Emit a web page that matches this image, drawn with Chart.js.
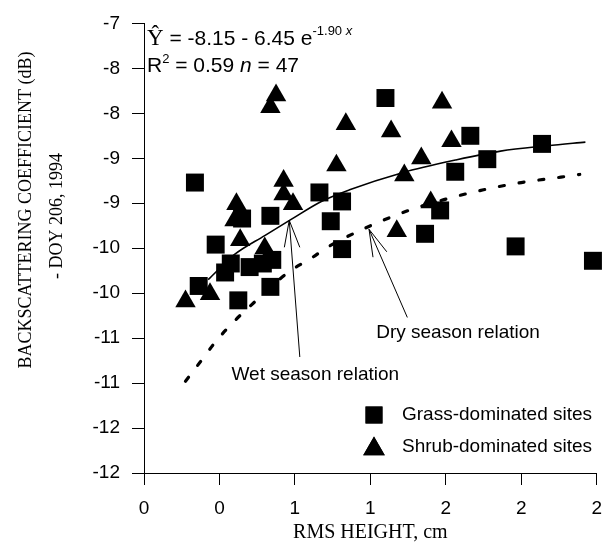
<!DOCTYPE html>
<html>
<head>
<meta charset="utf-8">
<script src="https://cdn.jsdelivr.net/npm/chart.js@4.4.1/dist/chart.umd.min.js"></script>
<style>
  html, body { margin: 0; padding: 0; background: #fff; }
</style>
</head>
<body>
<canvas id="myChart" width="614" height="547"></canvas>
<script>
// values
const grassX = [0.27, 0.67, 0.52, 0.38, 0.46, 0.43, 0.56, 0.63, 0.68, 0.29, 0.67, 0.50, 0.93, 0.99,
    1.28, 1.73, 2.11, 1.82, 1.65, 1.05, 1.57, 1.49, 1.05, 1.97, 2.38];
const grassY = [-8.77, -9.14, -9.17, -9.46, -9.67, -9.77, -9.71, -9.67, -9.63, -9.92, -9.93, -10.08, -8.88, -9.20,
    -7.83, -8.25, -8.34, -8.51, -8.65, -8.98, -9.08, -9.34, -9.51, -9.48, -9.64];

const shrubX = [0.70, 0.67, 0.74, 0.74, 0.79, 0.49, 0.48, 0.51, 0.64, 0.66, 0.35, 0.22,
    1.58, 1.07, 1.31, 1.63, 1.47, 1.02, 1.38, 1.52, 1.34];
const shrubY = [-7.80, -7.93, -8.75, -8.90, -9.01, -9.01, -9.19, -9.41, -9.50, -9.59, -10.01, -10.09,
    -7.88, -8.12, -8.20, -8.31, -8.50, -8.58, -8.69, -8.99, -9.31];

const wetX = [0.34, 0.48, 0.64, 0.78, 0.94, 1.09, 1.37, 1.65, 1.89, 2.14, 2.34];
const wetY = [-9.85, -9.57, -9.36, -9.18, -8.98, -8.85, -8.66, -8.52, -8.42, -8.36, -8.32];

const dryX = [0.22, 0.30, 0.38, 0.47, 0.57, 0.77, 0.88, 0.98, 1.18, 1.39, 1.59, 1.80, 2.00, 2.21, 2.31];
const dryY = [-10.98, -10.76, -10.54, -10.33, -10.13, -9.76, -9.62, -9.48, -9.27, -9.09, -8.96, -8.85, -8.77, -8.71, -8.68];

const xTickValues = [0, 0.4, 0.8, 1.2, 1.6, 2.0, 2.4];
const yTickValues = [-12, -11.5, -11, -10.5, -10, -9.5, -9, -8.5, -8, -7.5, -7];

const toPoints = (xs, ys) => xs.map((x, i) => ({ x: x, y: ys[i] }))

const sans = 'Liberation Sans, Arial, sans-serif'
const serif = 'Liberation Serif, Times New Roman, serif'

// arrows and notes, in data units
const notes = [
    { text: 'Wet season relation', x: 0.464, y: -10.91, tip: [0.770, -9.19], tail: [0.826, -10.71], wings: [[0.744, -9.49], [0.826, -9.49]] },
    { text: 'Dry season relation', x: 1.231, y: -10.44, tip: [1.193, -9.29], tail: [1.396, -10.27], wings: [[1.214, -9.60], [1.287, -9.54]] },
]

const extras = {
    id: 'extras',
    afterDraw(chart) {
        const ctx = chart.ctx
        const xs = chart.scales.x
        const ys = chart.scales.y
        const area = chart.chartArea
        ctx.save()
        ctx.fillStyle = '#000'
        ctx.strokeStyle = '#000'

        // y axis title, two lines
        ctx.font = '18px ' + serif
        ctx.textAlign = 'center'
        ctx.textBaseline = 'middle'
        ctx.save()
        ctx.translate(26, 210)
        ctx.rotate(-Math.PI / 2)
        ctx.fillText('BACKSCATTERING COEFFICIENT (dB)', 0, 0)
        ctx.restore()
        ctx.save()
        ctx.translate(57, 216)
        ctx.rotate(-Math.PI / 2)
        ctx.fillText('- DOY 206, 1994', 0, 0)
        ctx.restore()

        // equation
        ctx.textAlign = 'left'
        ctx.textBaseline = 'alphabetic'
        let x = area.left + 3
        let y = 45
        ctx.font = '23px ' + serif
        ctx.fillText('\u0176', x, y)
        x += ctx.measureText('\u0176').width
        ctx.font = '21px ' + sans
        ctx.fillText(' = -8.15 - 6.45 e', x, y)
        x += ctx.measureText(' = -8.15 - 6.45 e').width
        ctx.font = '13px ' + sans
        ctx.fillText('-1.90 ', x, y - 10)
        x += ctx.measureText('-1.90 ').width
        ctx.font = 'italic 13px ' + sans
        ctx.fillText('x', x, y - 10)

        x = area.left + 3
        y = 72
        ctx.font = '21px ' + sans
        ctx.fillText('R', x, y)
        x += ctx.measureText('R').width
        ctx.font = '13px ' + sans
        ctx.fillText('2', x, y - 9)
        x += ctx.measureText('2').width
        ctx.font = '21px ' + sans
        ctx.fillText(' = 0.59 ', x, y)
        x += ctx.measureText(' = 0.59 ').width
        ctx.font = 'italic 21px ' + sans
        ctx.fillText('n', x, y)
        x += ctx.measureText('n').width
        ctx.font = '21px ' + sans
        ctx.fillText(' = 47', x, y)

        // notes with arrows
        ctx.lineWidth = 1
        notes.forEach(n => {
            const tip = [xs.getPixelForValue(n.tip[0]), ys.getPixelForValue(n.tip[1])]
            ctx.beginPath()
            ctx.moveTo(xs.getPixelForValue(n.tail[0]), ys.getPixelForValue(n.tail[1]))
            ctx.lineTo(tip[0], tip[1])
            n.wings.forEach(w => {
                ctx.moveTo(tip[0], tip[1])
                ctx.lineTo(xs.getPixelForValue(w[0]), ys.getPixelForValue(w[1]))
            })
            ctx.stroke()
            ctx.font = '19px ' + sans
            ctx.textBaseline = 'middle'
            ctx.fillText(n.text, xs.getPixelForValue(n.x), ys.getPixelForValue(n.y))
        })

        // legend
        const items = [
            { ds: chart.data.datasets[0], cy: 415, r: 12 },
            { ds: chart.data.datasets[1], cy: 449, r: 12.5 },
        ]
        items.forEach(it => {
            Chart.helpers.drawPoint(ctx, {
                pointStyle: it.ds.pointStyle,
                radius: it.r,
                borderWidth: 0,
            }, 374, it.cy)
            ctx.fill()
            ctx.font = '19px ' + sans
            ctx.textBaseline = 'middle'
            ctx.fillText(it.ds.label, 402, it.ds.pointStyle === 'triangle' ? it.cy - 2 : it.cy)
        })
        ctx.restore()
    }
}

const data = {
    datasets: [{
        label: 'Grass-dominated sites',
        type: 'scatter',
        data: toPoints(grassX, grassY),
        pointStyle: 'rect',
        pointRadius: 12.7,
        backgroundColor: '#000',
        borderColor: '#000',
        borderWidth: 0,
        clip: false,
    }, {
        label: 'Shrub-dominated sites',
        type: 'scatter',
        data: toPoints(shrubX, shrubY),
        pointStyle: 'triangle',
        pointRadius: 11.8,
        backgroundColor: '#000',
        borderColor: '#000',
        borderWidth: 0,
        clip: false,
    }, {
        label: 'Wet season relation',
        type: 'line',
        data: toPoints(wetX, wetY),
        borderColor: '#000',
        borderWidth: 1.6,
        pointRadius: 0,
        cubicInterpolationMode: 'monotone',
        fill: false,
    }, {
        label: 'Dry season relation',
        type: 'line',
        data: toPoints(dryX, dryY),
        borderColor: '#000',
        borderWidth: 3.2,
        borderDash: [5, 15],
        borderCapStyle: 'round',
        pointRadius: 0,
        cubicInterpolationMode: 'monotone',
        fill: false,
    }]
};

const config = {
    type: 'scatter',
    data: data,
    options: {
        responsive: false,
        animation: false,
        devicePixelRatio: 1,
        layout: { padding: { top: 16, right: 10, left: 0, bottom: 0 } },
        plugins: { legend: { display: false }, tooltip: { enabled: false } },
        scales: {
            x: {
                type: 'linear',
                min: 0,
                max: 2.4,
                afterBuildTicks: s => { s.ticks = xTickValues.map(v => ({ value: v })) },
                afterFit: s => { s.height = 74 },
                ticks: {
                    callback: v => Math.round(v),
                    font: { family: sans, size: 19 },
                    color: '#000',
                    padding: 12,
                    maxRotation: 0,
                    autoSkip: false,
                },
                grid: { drawOnChartArea: false, tickLength: 12, color: '#000' },
                border: { color: '#000', width: 1 },
                title: {
                    display: true,
                    text: 'RMS HEIGHT, cm',
                    font: { family: serif, size: 20 },
                    color: '#000',
                    padding: { top: 0, bottom: 2 },
                },
            },
            y: {
                type: 'linear',
                min: -12,
                max: -7,
                afterBuildTicks: s => { s.ticks = yTickValues.map(v => ({ value: v })) },
                afterFit: s => { s.width = 144 },
                ticks: {
                    callback: v => -Math.round(-v),
                    font: { family: sans, size: 19 },
                    color: '#000',
                    padding: 12,
                    autoSkip: false,
                },
                grid: { drawOnChartArea: false, tickLength: 12, color: '#000' },
                border: { color: '#000', width: 1 },
            }
        }
    },
    plugins: [extras]
};

const myChart = new Chart(
    document.getElementById('myChart'),
    config
);
</script>
</body>
</html>
